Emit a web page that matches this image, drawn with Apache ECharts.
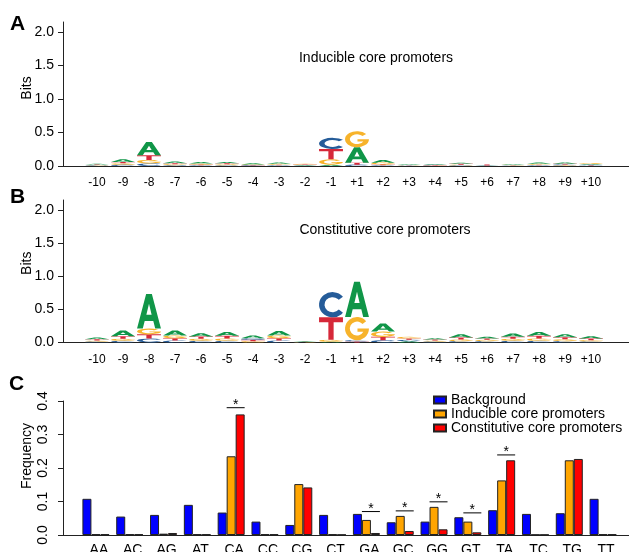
<!DOCTYPE html>
<html><head><meta charset="utf-8">
<script src="https://cdn.jsdelivr.net/npm/echarts@6/dist/echarts.min.js"></script>
<style>html,body{margin:0;padding:0;background:#fff}#c{width:629px;height:552px}</style>
</head><body><div id="c"></div>
<script>
// ---------- DATA ----------
const positions = ['-10','-9','-8','-7','-6','-5','-4','-3','-2','-1','+1','+2','+3','+4','+5','+6','+7','+8','+9','+10'];

// Panel A: inducible core promoters (bits per letter)
const indA = [0.010,0.040,0.200,0.025,0.022,0.020,0.018,0.022,0.008,0.020,0.230,0.040,0.010,0.012,0.018,0.003,0.010,0.020,0.018,0.012];
const indC = [0.008,0.020,0.040,0.012,0.010,0.010,0.008,0.010,0.006,0.165,0.020,0.010,0.006,0.008,0.010,0.003,0.006,0.010,0.012,0.010];
const indG = [0.008,0.020,0.050,0.015,0.015,0.015,0.008,0.012,0.010,0.080,0.240,0.025,0.005,0.005,0.010,0.003,0.008,0.012,0.010,0.012];
const indT = [0.008,0.020,0.070,0.015,0.012,0.015,0.006,0.010,0.008,0.155,0.030,0.015,0.004,0.005,0.012,0.015,0.006,0.010,0.012,0.008];

// Panel B: constitutive core promoters (bits per letter)
const conA = [0.025,0.085,0.520,0.075,0.050,0.060,0.040,0.070,0.005,0.010,0.530,0.120,0.020,0.020,0.050,0.025,0.050,0.060,0.045,0.035];
const conC = [0.015,0.025,0.060,0.030,0.025,0.025,0.025,0.030,0.004,0.380,0.020,0.035,0.020,0.015,0.020,0.020,0.025,0.025,0.020,0.015];
const conG = [0.015,0.030,0.085,0.040,0.030,0.035,0.020,0.040,0.004,0.030,0.350,0.080,0.025,0.015,0.025,0.020,0.030,0.035,0.030,0.020];
const conT = [0.020,0.040,0.065,0.035,0.035,0.040,0.020,0.035,0.004,0.340,0.015,0.050,0.020,0.015,0.030,0.020,0.030,0.040,0.030,0.025];

const bitsTicks = [0, 0.5, 1.0, 1.5, 2.0];

// Panel C: dinucleotide frequencies
const dinucs = ['AA','AC','AG','AT','CA','CC','CG','CT','GA','GC','GG','GT','TA','TC','TG','TT'];
const background   = [0.108,0.055,0.060,0.090,0.067,0.040,0.030,0.060,0.063,0.038,0.040,0.053,0.074,0.063,0.065,0.108];
const inducible    = [0.002,0.002,0.004,0.002,0.235,0.002,0.152,0.002,0.045,0.057,0.084,0.040,0.163,0.001,0.223,0.002];
const constitutive = [0.002,0.002,0.006,0.002,0.360,0.002,0.142,0.001,0.006,0.012,0.017,0.008,0.223,0.001,0.227,0.002];
const sigCats  = ['CA','GA','GC','GG','GT','TA'];
const sigLineY = [0.380,0.070,0.072,0.099,0.066,0.239];

// ---------- STYLE ----------
const FONT = 'Liberation Sans, Arial, Helvetica, sans-serif';
const LETTER_COLORS = ['#109648','#255C99','#F7B32B','#D62839']; // A C G T
const LETTER_PATHS = [
  'M0,100 L38,0 L62,0 L100,100 L76,100 L68,78 L32,78 L24,100 Z M39,60 L61,60 L50,28 Z',
  'M88.3,17.9 A50,50 0 1 0 88.3,82.1 L73,69.3 A30,30 0 1 1 73,30.7 Z',
  'M88.3,17.9 A50,50 0 1 0 100,50 L52,50 L52,64 L76.5,64 A30,30 0 1 1 73,30.7 Z',
  'M0,0 L100,0 L100,22 L61,22 L61,100 L39,100 L39,22 L0,22 Z'
];
const BAR_W = 9;
const AXIS_COLOR = '#222';

function makeLogoData(A, C, G, T) {
  const out = [];
  for (let p = 0; p < A.length; p++) {
    const arr = [[0, A[p]], [1, C[p]], [2, G[p]], [3, T[p]]].sort((a, b) => a[1] - b[1]);
    let y = 0;
    for (const [li, h] of arr) { out.push([p, y, y + h, li]); y += h; }
  }
  return out;
}
function renderLetter(params, api) {
  const p = api.value(0), y0 = api.value(1), y1 = api.value(2), li = api.value(3);
  const bw = api.size([1, 0])[0];
  const top = api.coord([p, y1]), bot = api.coord([p, y0]);
  const h = bot[1] - top[1];
  if (h <= 0.05) return null;
  const w = bw * 0.92;
  return {
    type: 'path',
    shape: { pathData: LETTER_PATHS[li], x: top[0] - w / 2, y: top[1], width: w, height: h, layout: 'cover' },
    style: { fill: LETTER_COLORS[li] }
  };
}
function renderSig(params, api) {
  const pt = api.coord([api.value(0), api.value(1)]);
  return {
    type: 'group',
    children: [
      { type: 'line', shape: { x1: pt[0] - BAR_W / 2, y1: pt[1], x2: pt[0] + BAR_W * 1.5, y2: pt[1] },
        style: { stroke: '#000', lineWidth: 1 } },
      { type: 'text', x: pt[0] + BAR_W / 2, y: pt[1] - 2.5,
        style: { text: '*', fontSize: 14, fontFamily: FONT, fill: '#000', align: 'center', verticalAlign: 'middle' } }
    ]
  };
}

function frameX(gi) {
  return { gridIndex: gi, type: 'value', min: 0, max: 1,
    axisLine: { show: true, onZero: false, lineStyle: { color: AXIS_COLOR, width: 1 } },
    axisTick: { show: false }, axisLabel: { show: false }, splitLine: { show: false } };
}
function contentX(gi, data, fontSize, margin, padding) {
  return { gridIndex: gi, type: 'category', data: data,
    axisLine: { show: false }, axisTick: { show: false }, splitLine: { show: false },
    axisLabel: { interval: 0, fontSize: fontSize, color: '#000', margin: margin, fontFamily: FONT, padding: padding || 0 } };
}
function bitsY(gi, padLeft) {
  return { gridIndex: gi, type: 'value', min: 0, max: 2.15,
    name: 'Bits', nameLocation: 'middle', nameGap: 28.5, nameMoveOverlap: false,
    nameTextStyle: { fontSize: 14, color: '#000', fontFamily: FONT, padding: [0, 0, 0, padLeft] },
    axisLine: { show: true, lineStyle: { color: AXIS_COLOR, width: 1 } },
    axisTick: { show: true, length: 5, customValues: bitsTicks, lineStyle: { color: AXIS_COLOR } },
    axisLabel: { customValues: bitsTicks, fontSize: 14, color: '#000', margin: 9, fontFamily: FONT,
      formatter: v => v.toFixed(1) },
    splitLine: { show: false } };
}
function hiddenY(gi, max) {
  return { gridIndex: gi, type: 'value', min: 0, max: max, show: false, splitLine: { show: false } };
}
function grid(left, width, top, height) {
  return { left: left, width: width, top: top, height: height, containLabel: false, outerBoundsMode: 'none' };
}

const chart = echarts.init(document.getElementById('c'));
const option = {
  animation: false,
  backgroundColor: '#fff',
  textStyle: { fontFamily: FONT },
  title: [
    { text: 'A', left: 10, top: 13.5, padding: 0, textStyle: { fontSize: 21, fontWeight: 'bold', color: '#000', fontFamily: FONT } },
    { text: 'B', left: 10, top: 187, padding: 0, textStyle: { fontSize: 21, fontWeight: 'bold', color: '#000', fontFamily: FONT } },
    { text: 'C', left: 9, top: 374, padding: 0, textStyle: { fontSize: 21, fontWeight: 'bold', color: '#000', fontFamily: FONT } },
    { text: 'Inducible core promoters', left: 376, top: 51, textAlign: 'center', padding: 0,
      textStyle: { fontSize: 14, fontWeight: 'normal', color: '#000', fontFamily: FONT } },
    { text: 'Constitutive core promoters', left: 385, top: 223, textAlign: 'center', padding: 0,
      textStyle: { fontSize: 14, fontWeight: 'normal', color: '#000', fontFamily: FONT } }
  ],
  legend: {
    orient: 'vertical', left: 433, top: 393, padding: 0, itemGap: 0,
    itemWidth: 12, itemHeight: 7, icon: 'rect',
    textStyle: { fontSize: 14, color: '#000', lineHeight: 13, fontFamily: FONT },
    data: ['Background', 'Inducible core promoters', 'Constitutive core promoters']
  },
  grid: [
    grid(63, 566, 22, 144),
    grid(84, 520, 22, 144),
    grid(63, 566, 200, 142.5),
    grid(84, 520, 200, 142.5),
    grid(63, 566, 401, 134),
    grid(79, 541, 401, 134)
  ],
  xAxis: [
    frameX(0), contentX(1, positions, 12, 11),
    frameX(2), contentX(3, positions, 12, 11),
    frameX(4), contentX(5, dinucs, 14, 8, [0, 0, 0, 6])
  ],
  yAxis: [
    bitsY(0, 12), hiddenY(1, 2.15),
    bitsY(2, 16), hiddenY(3, 2.15),
    { gridIndex: 4, type: 'value', min: 0, max: 0.4, interval: 0.1,
      name: 'Frequency', nameLocation: 'middle', nameGap: 28.5, nameMoveOverlap: false,
      nameTextStyle: { fontSize: 14, color: '#000', fontFamily: FONT, padding: [0, 0, 0, 24] },
      axisLine: { show: true, lineStyle: { color: AXIS_COLOR, width: 1 } },
      axisTick: { show: true, length: 5, lineStyle: { color: AXIS_COLOR } },
      axisLabel: { rotate: 90, fontSize: 14, color: '#000', margin: 13, fontFamily: FONT, formatter: v => v.toFixed(1) },
      splitLine: { show: false } },
    hiddenY(5, 0.4)
  ],
  series: [
    { type: 'custom', xAxisIndex: 1, yAxisIndex: 1, silent: true, clip: false,
      data: makeLogoData(indA, indC, indG, indT), encode: { x: 0, y: [1, 2] }, renderItem: renderLetter },
    { type: 'custom', xAxisIndex: 3, yAxisIndex: 3, silent: true, clip: false,
      data: makeLogoData(conA, conC, conG, conT), encode: { x: 0, y: [1, 2] }, renderItem: renderLetter },
    { type: 'bar', name: 'Background', xAxisIndex: 5, yAxisIndex: 5, data: background,
      barWidth: BAR_W, barGap: '0%', itemStyle: { color: '#0000FF', borderColor: AXIS_COLOR, borderWidth: 1 } },
    { type: 'bar', name: 'Inducible core promoters', xAxisIndex: 5, yAxisIndex: 5, data: inducible,
      barWidth: BAR_W, barGap: '0%', itemStyle: { color: '#FFA500', borderColor: AXIS_COLOR, borderWidth: 1 } },
    { type: 'bar', name: 'Constitutive core promoters', xAxisIndex: 5, yAxisIndex: 5, data: constitutive,
      barWidth: BAR_W, barGap: '0%', itemStyle: { color: '#FF0000', borderColor: AXIS_COLOR, borderWidth: 1 } },
    { type: 'custom', xAxisIndex: 5, yAxisIndex: 5, silent: true, clip: false,
      data: sigCats.map((c, i) => [dinucs.indexOf(c), sigLineY[i]]), encode: { x: 0, y: 1 }, renderItem: renderSig }
  ]
};
chart.setOption(option);
</script>
</body></html>
